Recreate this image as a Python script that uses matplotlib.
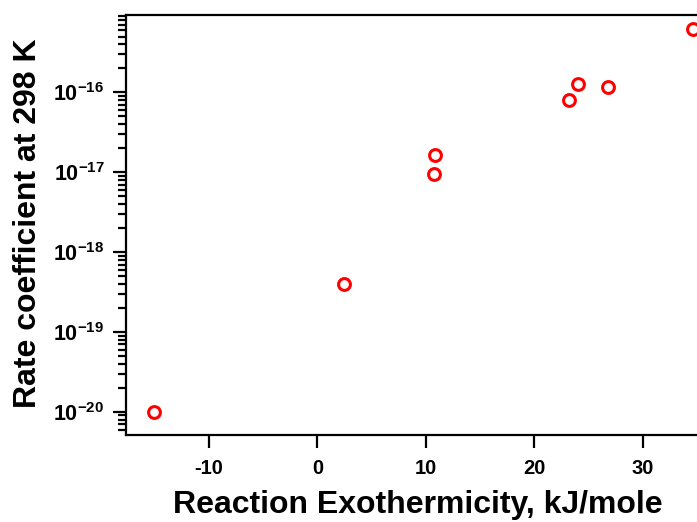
import matplotlib
matplotlib.use("Agg")
import matplotlib.pyplot as plt
from matplotlib.ticker import LogLocator, FixedLocator

# Reaction exothermicity (kJ/mole) and rate coefficient at 298 K
exothermicity = [-15.05, 2.45, 10.75, 10.8, 23.2, 24.05, 26.8, 34.6]
rate_coeff = [1.0e-20, 4.0e-19, 9.6e-18, 1.64e-17, 8.0e-17, 1.27e-16, 1.17e-16, 6.2e-16]

x_ticks = [-10, 0, 10, 20, 30]
y_ticks = [1e-20, 1e-19, 1e-18, 1e-17, 1e-16]
y_tick_labels = [r"$\mathbf{10^{-20}}$", r"$\mathbf{10^{-19}}$", r"$\mathbf{10^{-18}}$",
                 r"$\mathbf{10^{-17}}$", r"$\mathbf{10^{-16}}$"]

plt.rcParams["font.family"] = ["Liberation Sans", "DejaVu Sans"]
plt.rcParams["font.weight"] = "bold"
plt.rcParams["mathtext.fontset"] = "custom"
plt.rcParams["mathtext.bf"] = "Liberation Sans:bold"
plt.rcParams["mathtext.rm"] = "Liberation Sans:bold"


def main():
    fig = plt.figure(figsize=(6.97, 5.22), dpi=100)
    ax = fig.add_axes([126 / 697, 87 / 522, 571 / 697, 420 / 522])

    ax.plot(exothermicity, rate_coeff, "o", mfc="none", mec="red", ms=8.5, mew=2.2,
            clip_on=False)

    ax.set_yscale("log")
    ax.set_xlim(-17.65, 35.0)
    ax.set_ylim(10 ** -20.29, 10 ** -15.03)

    ax.set_xticks(x_ticks)
    ax.set_xticklabels([str(t) for t in x_ticks])
    ax.yaxis.set_major_locator(FixedLocator(y_ticks))
    ax.set_yticklabels(y_tick_labels)
    ax.yaxis.set_minor_locator(LogLocator(base=10, subs=range(2, 10), numticks=20))
    ax.yaxis.set_minor_formatter(plt.NullFormatter())

    ax.spines["right"].set_visible(False)
    for s in ["left", "bottom", "top"]:
        ax.spines[s].set_linewidth(1.6)

    ax.tick_params(axis="x", which="major", direction="out", length=9, width=1.6,
                   labelsize=14.5, pad=8)
    ax.tick_params(axis="y", which="major", direction="out", length=9.5, width=1.6,
                   labelsize=15.5, pad=6)
    ax.tick_params(axis="y", which="minor", direction="out", length=5.5, width=1.6)

    ax.set_xlabel("Reaction Exothermicity, kJ/mole", fontsize=23, fontweight="bold")
    ax.xaxis.set_label_coords(0.5105, -0.131)
    ax.set_ylabel("Rate coefficient at 298 K", fontsize=23, fontweight="bold")
    ax.yaxis.set_label_coords(-0.145, 0.5036)

    fig.savefig("out.png", dpi=100)


if __name__ == "__main__":
    main()
